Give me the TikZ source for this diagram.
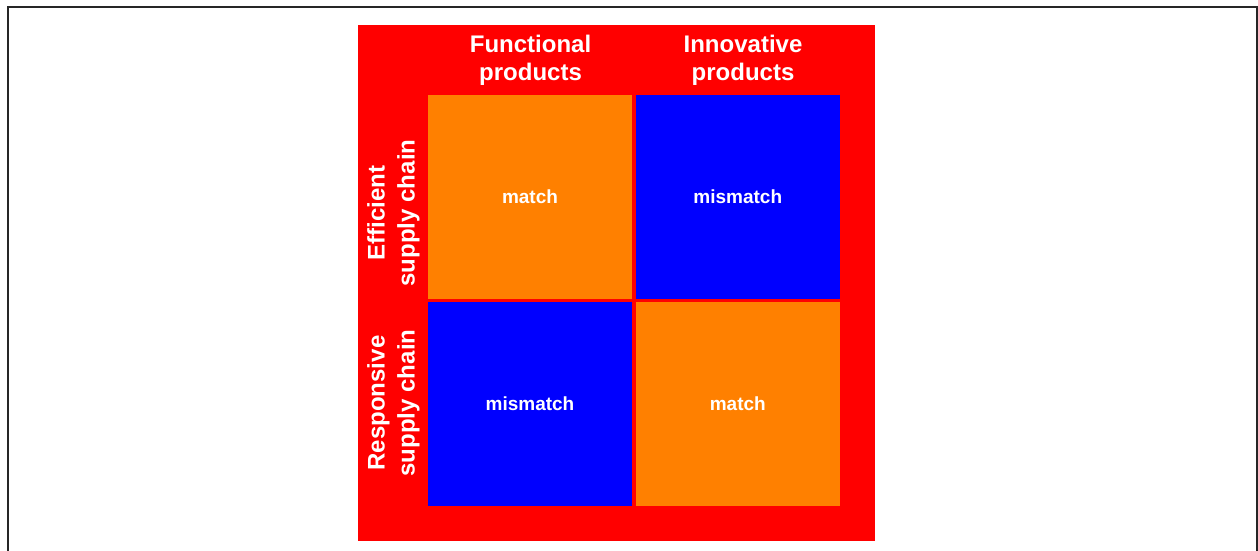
\documentclass[tikz,border=0pt]{standalone}
\usepackage{fontspec}
\setmainfont{Liberation Sans}
\usepackage{xcolor}
\usepackage{tikz}
\usetikzlibrary{positioning}

\definecolor{matchorange}{HTML}{FF8000}
\definecolor{backred}{HTML}{FF0000}
\definecolor{missblue}{HTML}{0000FF}

\begin{document}
\begin{tikzpicture}[
    x=0.5pt, y=-0.5pt,
    node distance=1.5pt,
    cell/.style={minimum width=102pt, minimum height=101.75pt, inner sep=0pt, text=white, font=\fontsize{9.5}{11}\selectfont\bfseries},
    matchcell/.style={cell, fill=matchorange},
    misscell/.style={cell, fill=missblue},
    head/.style={align=center, inner sep=0pt, text=white, font=\fontsize{12}{14}\selectfont\bfseries},
    side/.style={head, rotate=90, font=\fontsize{12}{15}\selectfont\bfseries},
]
    \useasboundingbox (0,0) rectangle (1258,551);
    \draw[line width=1pt, black!85] (8,551) |- (1257,7) -- (1257,551);

    % red backdrop of the matrix
    \fill[backred] (358,25) rectangle (875,541);

    \node[matchcell] (effunc) at (530,196.75) {match};
    \node[misscell, right=of effunc] (efinno) {mismatch};
    \node[misscell, below=of effunc] (resfunc) {mismatch};
    \node[matchcell, right=of resfunc] (resinno) {match};

    \node[head] (functional) at (530.5,60) {Functional\\products};
    \node[head] (innovative) at (743,60) {Innovative\\products};

    \node[side] (efficient) at (393.5,213) {Efficient\\supply chain};
    \node[side] (responsive) at (393.5,403) {Responsive\\supply chain};
\end{tikzpicture}
\end{document}
